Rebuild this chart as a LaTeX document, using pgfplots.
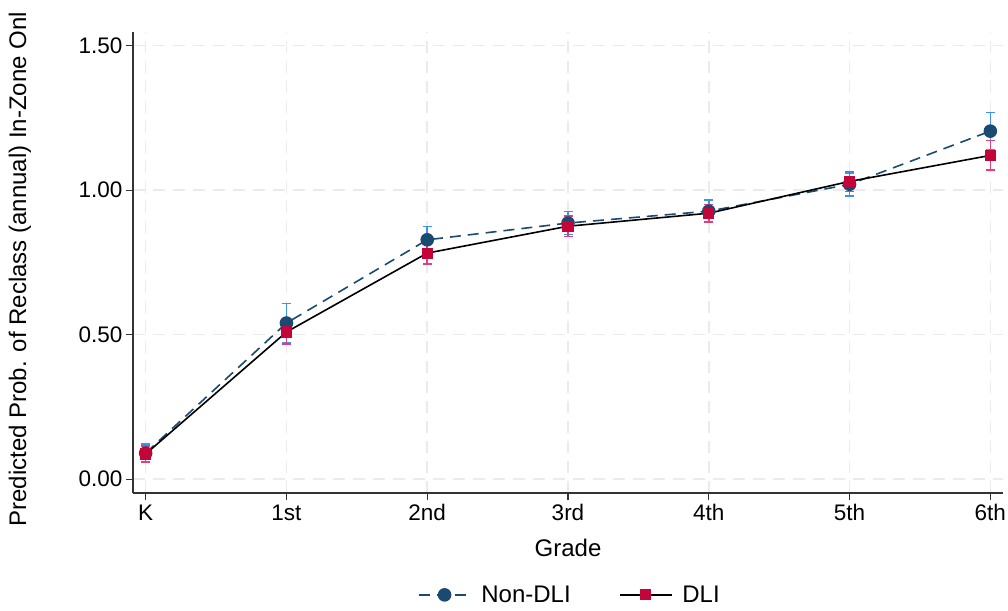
\documentclass[border=0pt]{standalone}
\usepackage{pgfplots}
\pgfplotsset{compat=1.18}
\usepackage{pgfplotstable}
\usepackage{fontspec}
\setmainfont{Liberation Sans}
\definecolor{navy}{HTML}{1A4A72}
\definecolor{lblue}{HTML}{3A93EE}
\definecolor{crim}{HTML}{C4053A}
\definecolor{pinkc}{HTML}{E2407A}
\definecolor{gridc}{HTML}{EBEBEB}
\pgfplotstableread{
x y ep em
0 0.090 0.032 0.032
1 0.540 0.068 0.068
2 0.828 0.046 0.046
3 0.886 0.040 0.040
4 0.927 0.039 0.037
5 1.020 0.040 0.040
6 1.204 0.064 0.064
}\nondli
\pgfplotstableread{
x y ep em
0 0.087 0.028 0.028
1 0.509 0.042 0.042
2 0.782 0.038 0.037
3 0.875 0.035 0.035
4 0.920 0.030 0.030
5 1.030 0.035 0.035
6 1.120 0.051 0.051
}\dli
\begin{document}
\begin{tikzpicture}[x=1pt,y=1pt]
\useasboundingbox (0,0) rectangle (1008,610);
\begin{axis}[
  at={(133pt,117pt)}, anchor=south west,
  scale only axis, width=870pt, height=461pt,
  xmin=-0.09, xmax=6.09, ymin=-0.048, ymax=1.547,
  axis x line*=bottom, axis y line*=left,
  axis line style={line width=1.3pt, black!80, -},
  tick align=outside, major tick length=7pt,
  tick style={line width=1.1pt, black!80},
  xtick={0,1,2,3,4,5,6},
  xticklabels={K,1st,2nd,3rd,4th,5th,6th},
  ytick={0,0.5,1,1.5},
  yticklabel style={/pgf/number format/.cd, fixed, fixed zerofill, precision=2, assume math mode=true},
  ticklabel style={font=\fontsize{22.5}{26}\selectfont},
  xticklabel style={yshift=-1pt},
  grid=major,
  major grid style={gridc, line width=1.6pt, dash pattern=on 12pt off 8pt},
  xlabel={Grade},
  xlabel style={font=\fontsize{24}{28}\selectfont, at={(axis description cs:0.5,0)}, anchor=center, yshift=-55pt},
  legend columns=2,
  legend style={at={(axis description cs:0.502,-0.221)}, anchor=center, draw=none, fill=none,
    font=\fontsize{24}{28}\selectfont,
    /tikz/every odd column/.append style={column sep=8pt},
    /tikz/every even column/.append style={column sep=46pt}},
  legend image code/.code={\draw[mark repeat=2,mark phase=2] plot coordinates {(0pt,0pt) (26pt,0pt) (52pt,0pt)};},
]
\addplot[forget plot, only marks, mark=none, lblue,
  error bars/.cd, y dir=both, y explicit,
  error bar style={line width=1.6pt, lblue},
  error mark options={rotate=90, mark size=4.5pt, line width=1.6pt, lblue}]
  table[x=x, y=y, y error plus=ep, y error minus=em]{\nondli};
\addplot[navy, line width=1.6pt, dash pattern=on 11pt off 7pt, mark=*, mark size=6pt,
  mark options={solid, fill=navy, draw=navy}]
  table[x=x, y=y]{\nondli};
\addlegendentry{Non-DLI}
\addplot[forget plot, only marks, mark=none, pinkc,
  error bars/.cd, y dir=both, y explicit,
  error bar style={line width=1.6pt, pinkc},
  error mark options={rotate=90, mark size=4.5pt, line width=1.6pt, pinkc}]
  table[x=x, y=y, y error plus=ep, y error minus=em]{\dli};
\addplot[black, line width=1.6pt, mark=square*, mark size=4.8pt,
  mark options={fill=crim, draw=crim}]
  table[x=x, y=y]{\dli};
\addlegendentry{DLI}
\end{axis}
\node[rotate=90, anchor=west, font=\fontsize{24}{28}\selectfont] at (20,80) {Predicted Prob. of Reclass (annual) In-Zone Onl};
\end{tikzpicture}
\end{document}
